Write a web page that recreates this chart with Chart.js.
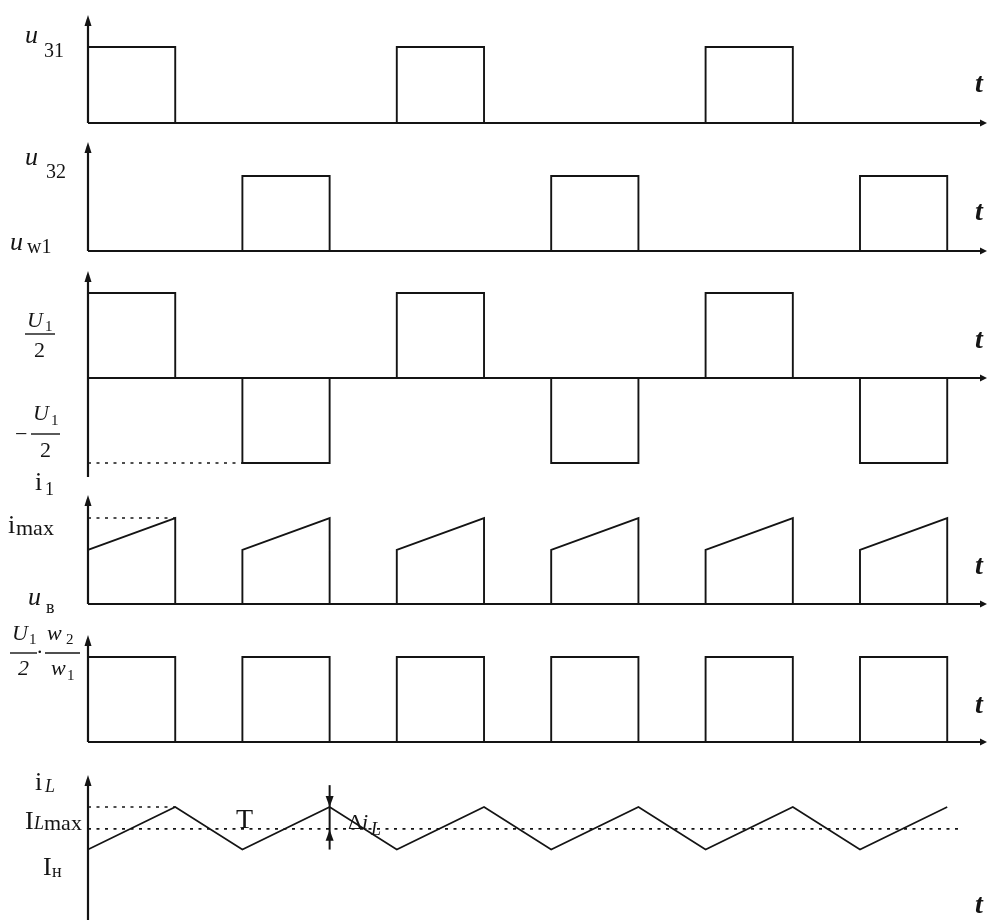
<!DOCTYPE html>
<html>
<head>
<meta charset="utf-8">
<script src="https://cdn.jsdelivr.net/npm/chart.js@4"></script>
<style>
  html, body { margin: 0; padding: 0; background: #fff; }
  #wrap { position: relative; width: 987px; height: 920px; }
</style>
</head>
<body>
<div id="wrap"><canvas id="diagram" width="987" height="920"></canvas></div>
<script>
// Time runs in arbitrary units: one switching period of the bridge output is 10.
const gate1Times    = [0, 5.65, 20, 25.65, 40, 45.65, 58];
const gate1Levels   = [1, 0, 1, 0, 1, 0, 0];
const gate2Times    = [0, 10, 15.65, 30, 35.65, 50, 55.65, 58];
const gate2Levels   = [0, 1, 0, 1, 0, 1, 0, 0];
const primaryTimes  = [0, 5.65, 10, 15.65, 20, 25.65, 30, 35.65, 40, 45.65, 50, 55.65, 58];
const primaryLevels = [1, 0, -1, 0, 1, 0, -1, 0, 1, 0, -1, 0, 0];
const i1Times       = [0, 5.65, 5.65, 10, 10, 15.65, 15.65, 20, 20, 25.65, 25.65, 30,
                       30, 35.65, 35.65, 40, 40, 45.65, 45.65, 50, 50, 55.65, 55.65];
const i1Values      = [0.63, 1, 0, 0, 0.63, 1, 0, 0, 0.63, 1, 0, 0,
                       0.63, 1, 0, 0, 0.63, 1, 0, 0, 0.63, 1, 0];
const rectTimes     = [0, 5.65, 10, 15.65, 20, 25.65, 30, 35.65, 40, 45.65, 50, 55.65, 58];
const rectLevels    = [1, 0, 1, 0, 1, 0, 1, 0, 1, 0, 1, 0, 0];
const iLTimes       = [0, 5.65, 10, 15.65, 20, 25.65, 30, 35.65, 40, 45.65, 50, 55.65];
const iLValues      = [0.63, 1, 0.63, 1, 0.63, 1, 0.63, 1, 0.63, 1, 0.63, 1];
const i1Max         = 1;
const iLMax         = 1;
const iLMean        = 0.81;
const primaryLow    = -1;
const deltaAt       = 15.65;   // where the ripple Δi_L is marked

// Page geometry: the time axis and the band each waveform occupies.
const W = 987, H = 920;
const X_MIN = -5.699, X_MAX = 58.226;
const panels = [
  { id: 'y1', zero: 123, unit: 76,  axisTop: 15,  axisBottom: 123, hAxis: true,  tY: 92  },
  { id: 'y2', zero: 251, unit: 75,  axisTop: 142, axisBottom: 251, hAxis: true,  tY: 220 },
  { id: 'y3', zero: 378, unit: 85,  axisTop: 271, axisBottom: 477, hAxis: true,  tY: 348 },
  { id: 'y4', zero: 604, unit: 86,  axisTop: 495, axisBottom: 604, hAxis: true,  tY: 574 },
  { id: 'y5', zero: 742, unit: 85,  axisTop: 635, axisBottom: 742, hAxis: true,  tY: 713 },
  { id: 'y6', zero: 922, unit: 115, axisTop: 775, axisBottom: 920, hAxis: false, tY: 913 }
];

const INK = '#141414';
const SERIF = '"Liberation Serif", "DejaVu Serif", serif';
const F = {
  big:   '26px ' + SERIF,
  bigI:  'italic 26px ' + SERIF,
  mid:   '22px ' + SERIF,
  midI:  'italic 22px ' + SERIF,
  sub:   '20px ' + SERIF,
  subS:  '18px ' + SERIF,
  subI:  'italic 18px ' + SERIF,
  tiny:  '15px ' + SERIF,
  T:     '28px ' + SERIF,
  t:     'italic bold 28px ' + SERIF
};

// Left-hand axis names: [text, font, x, baseline]
const labelPieces = [
  ['u', 'bigI', 25, 43], ['31', 'sub', 44, 57],
  ['u', 'bigI', 25, 165], ['32', 'sub', 46, 178],
  ['u', 'bigI', 10, 250], ['w1', 'sub', 27, 253],
  ['U', 'midI', 27, 327], ['1', 'tiny', 45, 331], ['2', 'mid', 34, 357],
  ['\u2212', 'mid', 15, 441], ['U', 'midI', 33, 420], ['1', 'tiny', 51, 425], ['2', 'mid', 40, 457],
  ['i', 'big', 35, 490], ['1', 'subS', 45, 495],
  ['i', 'big', 8, 533], ['max', 'mid', 16, 535],
  ['u', 'bigI', 28, 605], ['\u0432', 'subS', 46, 613],
  ['U', 'midI', 12, 640], ['1', 'tiny', 29, 644], ['2', 'midI', 18, 675], ['.', 'mid', 37, 653],
  ['w', 'midI', 47, 640], ['2', 'tiny', 66, 644], ['w', 'midI', 51, 675], ['1', 'tiny', 67, 680],
  ['i', 'big', 35, 790], ['L', 'subI', 45, 792],
  ['I', 'big', 25, 829], ['L', 'subI', 34, 829], ['max', 'mid', 44, 830],
  ['I', 'big', 43, 875], ['\u043d', 'subS', 52, 877],
  ['T', 'T', 236, 828],
  ['\u0394', 'mid', 348, 829], ['i', 'midI', 362, 829], ['L', 'subI', 371, 835]
];
// Fraction bars: [x1, x2, y]
const fractionBars = [[25, 55, 334], [31, 60, 434], [10, 37, 653], [45, 80, 653]];

function pts(xs, ys) { return xs.map((x, i) => ({ x, y: ys[i] })); }

const solid = { borderColor: INK, borderWidth: 1.9, pointRadius: 0, fill: false, tension: 0 };
const dotted = { borderColor: INK, borderWidth: 1.6, borderDash: [3, 5.5], pointRadius: 0, fill: false, tension: 0 };

const scales = {
  x: { type: 'linear', min: X_MIN, max: X_MAX, display: false }
};
panels.forEach(p => {
  scales[p.id] = { type: 'linear', position: 'left', display: false,
                   max: p.zero / p.unit, min: (p.zero - H) / p.unit };
});

function tri(ctx, x1, y1, x2, y2, x3, y3) {
  ctx.beginPath(); ctx.moveTo(x1, y1); ctx.lineTo(x2, y2); ctx.lineTo(x3, y3); ctx.closePath(); ctx.fill();
}

const decor = {
  id: 'decor',
  beforeDatasetsDraw(chart) {
    const ctx = chart.ctx, xs = chart.scales.x;
    const x0 = xs.getPixelForValue(0);
    ctx.save();
    ctx.strokeStyle = INK; ctx.fillStyle = INK; ctx.lineWidth = 2.2;
    panels.forEach(p => {
      const ys = chart.scales[p.id];
      const base = ys.getPixelForValue(0);
      ctx.beginPath(); ctx.moveTo(x0, p.axisBottom); ctx.lineTo(x0, p.axisTop + 4); ctx.stroke();
      tri(ctx, x0, p.axisTop, x0 - 3.5, p.axisTop + 11, x0 + 3.5, p.axisTop + 11);
      if (p.hAxis) {
        ctx.beginPath(); ctx.moveTo(x0, base); ctx.lineTo(W - 4, base); ctx.stroke();
        tri(ctx, W, base, W - 7, base - 3.5, W - 7, base + 3.5);
      }
    });
    ctx.restore();
  },
  afterDatasetsDraw(chart) {
    const ctx = chart.ctx, xs = chart.scales.x, y6 = chart.scales.y6;
    ctx.save();
    ctx.fillStyle = INK; ctx.strokeStyle = INK;
    // ripple marker
    const mx = xs.getPixelForValue(deltaAt);
    const top = y6.getPixelForValue(1.19), bot = y6.getPixelForValue(0.63);
    const hi = y6.getPixelForValue(iLMax), mean = y6.getPixelForValue(iLMean);
    ctx.lineWidth = 2;
    ctx.beginPath(); ctx.moveTo(mx, top); ctx.lineTo(mx, bot); ctx.stroke();
    tri(ctx, mx, hi, mx - 4, hi - 11, mx + 4, hi - 11);
    tri(ctx, mx, mean + 1, mx - 4, mean + 12, mx + 4, mean + 12);
    // fraction bars
    ctx.lineWidth = 1.4;
    fractionBars.forEach(([a, b, y]) => { ctx.beginPath(); ctx.moveTo(a, y); ctx.lineTo(b, y); ctx.stroke(); });
    // texts
    ctx.textBaseline = 'alphabetic'; ctx.textAlign = 'left';
    labelPieces.forEach(([txt, f, x, y]) => { ctx.font = F[f]; ctx.fillText(txt, x, y); });
    ctx.font = F.t;
    panels.forEach(p => ctx.fillText('t', 975, p.tY));
    ctx.restore();
  }
};

new Chart(document.getElementById('diagram'), {
  type: 'line',
  data: {
    datasets: [
      { ...solid, yAxisID: 'y1', stepped: true, data: pts(gate1Times, gate1Levels) },
      { ...solid, yAxisID: 'y2', stepped: true, data: pts(gate2Times, gate2Levels) },
      { ...solid, yAxisID: 'y3', stepped: true, data: pts(primaryTimes, primaryLevels) },
      { ...solid, yAxisID: 'y4', data: pts(i1Times, i1Values) },
      { ...solid, yAxisID: 'y5', stepped: true, data: pts(rectTimes, rectLevels) },
      { ...solid, yAxisID: 'y6', borderWidth: 1.6, data: pts(iLTimes, iLValues) },
      { ...dotted, yAxisID: 'y3', data: pts([0, 10], [primaryLow, primaryLow]) },
      { ...dotted, yAxisID: 'y4', data: pts([0, 5.65], [i1Max, i1Max]) },
      { ...dotted, yAxisID: 'y6', data: pts([0, 5.65], [iLMax, iLMax]) },
      { ...dotted, yAxisID: 'y6', data: pts([0, 56.7], [iLMean, iLMean]) }
    ]
  },
  options: {
    responsive: false,
    animation: false,
    devicePixelRatio: 1,
    events: [],
    layout: { padding: 0 },
    plugins: { legend: { display: false }, tooltip: { enabled: false }, title: { display: false } },
    scales
  },
  plugins: [decor]
});
</script>
</body>
</html>
